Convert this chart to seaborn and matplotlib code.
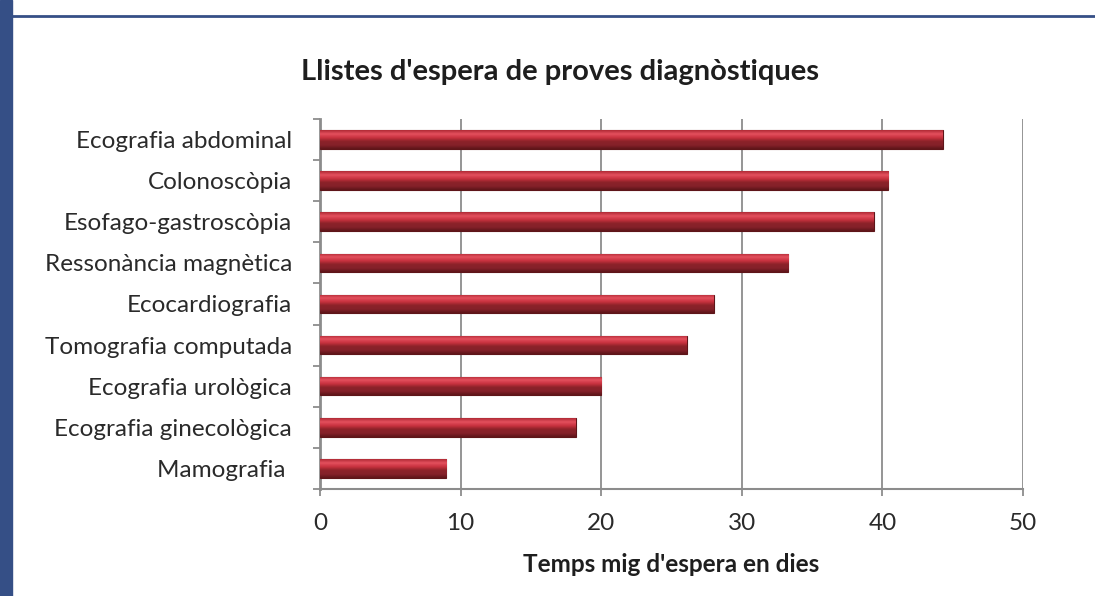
import numpy as np
import pandas as pd
import matplotlib
matplotlib.use("Agg")
import matplotlib.pyplot as plt
import seaborn as sns
from matplotlib.colors import LinearSegmentedColormap
from matplotlib.patches import Rectangle
from matplotlib.lines import Line2D

# Chart data
categories = ['Ecografia abdominal', 'Colonoscòpia', 'Esofago-gastroscòpia',
              'Ressonància magnètica', 'Ecocardiografia', 'Tomografia computada',
              'Ecografia urològica', 'Ecografia ginecològica', 'Mamografia ']
dies = [44.3, 40.4, 39.4, 33.3, 28.0, 26.1, 20.0, 18.2, 9.0]
x_ticks = [0, 10, 20, 30, 40, 50]

df = pd.DataFrame({'prova': categories, 'dies': dies})

sns.set_theme(style='white')
plt.rcParams['font.family'] = ['Lato', 'DejaVu Sans']

fig = plt.figure(figsize=(10.95, 5.96), dpi=100)
ax = fig.add_axes([0.2922, 0.1795, 0.642, 0.621])

sns.barplot(data=df, x='dies', y='prova', orient='h', color='#8B2229',
            width=0.45, edgecolor='#5E1519', linewidth=0.8, ax=ax, zorder=3)

# bevelled look: vertical gradient clipped to each bar
grad = LinearSegmentedColormap.from_list('bev', ['#B02A35', '#E4505E', '#C8323F', '#8B2229', '#85212A', '#5E1519'])
g = np.linspace(0, 1, 64).reshape(-1, 1)
for p in ax.patches:
    x0, y0 = p.get_x(), p.get_y()
    w, h = p.get_width(), p.get_height()
    im = ax.imshow(g, cmap=grad, aspect='auto', extent=[x0, x0 + w, y0 + h, y0],
                   origin='upper', zorder=4, interpolation='bilinear')
    im.set_clip_path(p)

ax.set_xlim(0, 50)
ax.set_ylim(len(categories) - 0.5, -0.5)
ax.set_xticks(x_ticks)
ax.xaxis.grid(True, color='#8C8C8C', linewidth=1.3)
ax.set_axisbelow(True)

ax.set_yticks(range(len(categories)))
ax.set_yticklabels(categories)
ax.set_yticks(np.arange(-0.5, len(categories), 1), minor=True)
ax.tick_params(axis='y', which='major', length=0, pad=20, labelsize=17.5, labelcolor='#2A2A2A')
ax.tick_params(axis='y', which='minor', left=True, length=5, width=1.3, color='#8C8C8C')
ax.tick_params(axis='x', bottom=True, length=5, width=1.3, color='#8C8C8C',
               labelsize=17.5, labelcolor='#2A2A2A', pad=12)

for s in ['top', 'right']:
    ax.spines[s].set_visible(False)
ax.spines['left'].set_color('#8C8C8C')
ax.spines['left'].set_linewidth(2)
ax.spines['bottom'].set_color('#8C8C8C')
ax.spines['bottom'].set_linewidth(1.5)

ax.set_ylabel('')
ax.set_xlabel("Temps mig d'espera en dies", fontsize=17.5, fontweight='bold',
              color='#1E1E1E', labelpad=14)
ax.set_title("Llistes d'espera de proves diagnòstiques", fontsize=21,
             fontweight='bold', color='#1E1E1E', pad=28, x=0.341)

# page frame: blue band on the left and rule on top
fig.patches.append(Rectangle((0, 0), 12 / 1095, 1, transform=fig.transFigure,
                             color='#354F86', zorder=0))
fig.lines.append(Line2D([12 / 1095, 1], [1 - 16 / 596] * 2, transform=fig.transFigure,
                        color='#354F86', linewidth=2))

fig.savefig('out.png', dpi=100)
